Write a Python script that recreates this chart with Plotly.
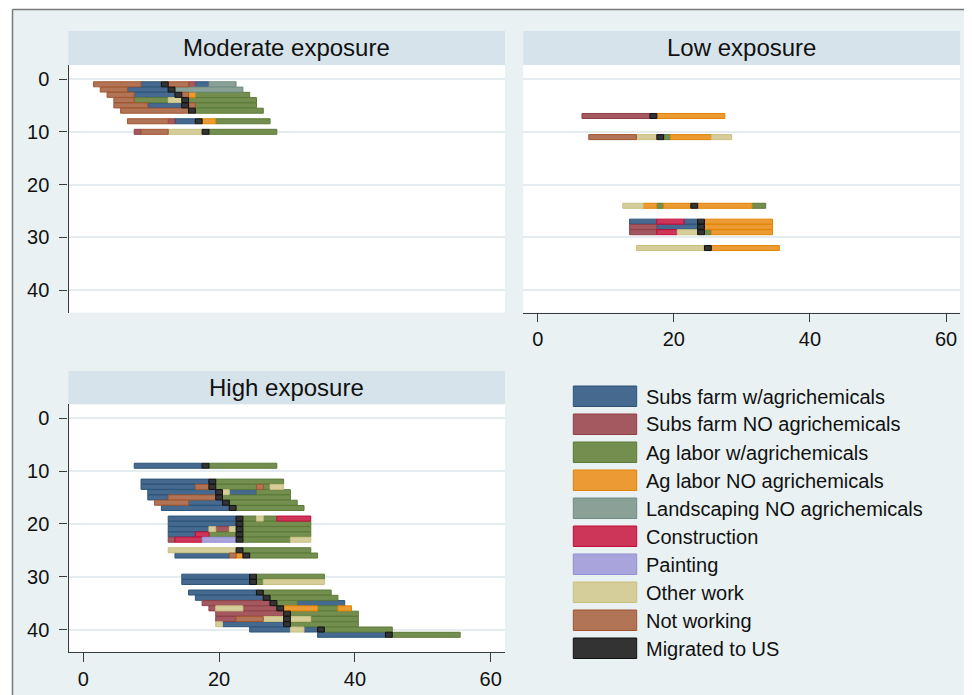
import plotly.graph_objects as go

# ---------------- data ----------------
state_codes = ["S", "s", "A", "a", "L", "C", "P", "O", "N", "M"]
state_labels = [
    "Subs farm w/agrichemicals",
    "Subs farm NO agrichemicals",
    "Ag labor w/agrichemicals",
    "Ag labor NO agrichemicals",
    "Landscaping NO agrichemicals",
    "Construction",
    "Painting",
    "Other work",
    "Not working",
    "Migrated to US",
]
state_fills = ["#45698f", "#a4585f", "#748e4f", "#ec9a33", "#8ba197",
               "#cd3659", "#aaa4dc", "#d5ce9a", "#b17457", "#333333"]
state_lines = ["#2c5479", "#8f3f48", "#5b7a37", "#e08400", "#6f8c82",
               "#c20c3c", "#938dd2", "#c8bf7f", "#a0552f", "#111111"]

panel_titles = ["Moderate exposure", "Low exposure", "High exposure"]
y_ticks = [0, 10, 20, 30, 40]
x_ticks = [0, 20, 40, 60]

# each sequence: runs of "<state><years>", starting at the given age
mod_rows = [1, 2, 3, 4, 5, 6, 8, 10]
mod_start = [1.5, 2.5, 3.5, 4.5, 4.5, 5.5, 6.5, 7.5]
mod_seq = [
    "N7 S3 M1 N3 s1 S2 L4",
    "N4 S6 M1 L10",
    "N4 S6 M1 N1 a1 A8",
    "N3 A5 O2 M1 A10",
    "N5 S5 M1 N1 A9",
    "N10 M1 A10",
    "N6 s1 S3 M1 a2 A8",
    "s1 N4 O5 M1 A10",
]

low_rows = [7, 11, 24, 27, 28, 29, 32]
low_start = [6.5, 7.5, 12.5, 13.5, 13.5, 13.5, 14.5]
low_seq = [
    "s10 M1 a10",
    "N7 O3 M1 A1 a6 O3",
    "O3 a2 A1 a4 M1 a8 A2",
    "S4 C4 S2 M1 a10",
    "s4 S6 M1 a10",
    "s4 C3 O3 M1 A1 a9",
    "O10 M1 a10",
]

high_rows = [9, 12, 13, 14, 15, 16, 17, 19, 20, 21, 22, 23, 25, 26,
             30, 31, 33, 34, 35, 36, 37, 38, 39, 40, 41]
high_start = [7.5, 8.5, 8.5, 9.5, 9.5, 10.5, 11.5, 12.5, 12.5, 12.5, 12.5, 12.5, 12.5, 13.5,
              14.5, 14.5, 15.5, 16.5, 17.5, 18.5, 19.5, 19.5, 19.5, 24.5, 34.5]
high_seq = [
    "S10 M1 A10",
    "S10 M1 A10",
    "S8 N2 M1 A6 N1 A1 O2",
    "S10 M1 O1 S4 A5",
    "S3 N7 M1 A10",
    "N5 S5 M1 A10",
    "S10 M1 A10",
    "S10 M1 A2 O1 A2 C5",
    "S10 M1 A10",
    "S6 O1 s2 O1 M1 A10",
    "S4 C2 A4 M1 A10",
    "s1 C4 P5 M1 A7 O3",
    "O10 M1 A10",
    "S8 N1 a1 M1 A10",
    "S10 M1 A10",
    "S10 M1 A1 O9",
    "S10 M1 A10",
    "S10 M1 A10",
    "s10 M1 A3 S7",
    "s1 O4 s5 M1 a5 A3 a2",
    "s10 M1 A10",
    "s3 N4 O3 M1 O3 A7",
    "O1 S9 M1 A10",
    "S6 O2 S2 M1 A10",
    "S10 M1 A10",
]

# ---------------- helpers ----------------
# the page body has an 8px margin, so the figure is drawn at (8, 8)
OFF = 8
W, H = 972 - OFF, 695 - OFF
FONT = "Liberation Sans, Arial, Helvetica, sans-serif"


def px(x):
    return (x - OFF) / W


def py(y):
    return 1 - (y - OFF) / H


def runs(start, seq):
    out = []
    pos = start
    for tok in seq.split():
        code, n = tok[0], int(tok[1:])
        out.append((code, pos, n))
        pos += n
    return out


fig = go.Figure()


def add_panel(rows, starts, seqs, xa, ya):
    for code, label, fill, line in zip(state_codes, state_labels, state_fills, state_lines):
        ys, bases, lens = [], [], []
        for r, s0, sq in zip(rows, starts, seqs):
            for c, b, n in runs(s0, sq):
                if c == code:
                    ys.append(r)
                    bases.append(b)
                    lens.append(n)
        if ys:
            fig.add_trace(go.Bar(
                y=ys, x=lens, base=bases, orientation="h",
                xaxis=xa, yaxis=ya, width=0.95, name=label,
                marker=dict(color=fill, line=dict(color=line, width=1)),
                showlegend=False,
            ))


add_panel(mod_rows, mod_start, mod_seq, "x", "y")
add_panel(low_rows, low_start, low_seq, "x2", "y2")
add_panel(high_rows, high_start, high_seq, "x3", "y3")

# ---------------- layout ----------------
left_dom = [px(68.5), px(505)]
right_dom = [px(523.3), px(960)]
top_dom = [py(312.5), py(65)]
bot_dom = [py(651.7), py(404.2)]
xr_left = [-2.18, 62.1]
xr_right = [-2.12, 62.05]
yr = [44.2, -2.65]

AX = "#3a3a3a"
GRID = "#e4ecef"
tickfont = dict(family=FONT, size=20, color="#111111")

common_y = dict(range=yr, tickvals=y_ticks, showgrid=True, gridcolor=GRID, gridwidth=1.5,
                zeroline=False, tickfont=tickfont, automargin=False)
common_x = dict(tickvals=x_ticks, showgrid=False, zeroline=False, tickfont=tickfont,
                automargin=False)

fig.update_layout(
    template="none",
    width=W, height=H,
    margin=dict(l=0, r=0, t=0, b=0, pad=0, autoexpand=False),
    paper_bgcolor="#e9f1f3",
    plot_bgcolor="#ffffff",
    barmode="overlay",
    font=dict(family=FONT, color="#111111"),
    xaxis=dict(domain=left_dom, range=xr_left, anchor="y", showticklabels=False,
               ticks="", showline=False, **common_x),
    yaxis=dict(domain=top_dom, anchor="x", showline=True, linecolor=AX, linewidth=1.3,
               ticks="outside", ticklen=8, tickcolor=AX, tickwidth=1.3,
               ticklabelstandoff=6, **common_y),
    xaxis2=dict(domain=right_dom, range=xr_right, anchor="y2", showline=True,
                linecolor=AX, linewidth=1.3, ticks="outside", ticklen=8, tickcolor=AX,
                tickwidth=1.3, **common_x),
    yaxis2=dict(domain=top_dom, anchor="x2", showline=False, ticks="",
                showticklabels=False, **common_y),
    xaxis3=dict(domain=left_dom, range=xr_left, anchor="y3", showline=True,
                linecolor=AX, linewidth=1.3, ticks="outside", ticklen=9, tickcolor=AX,
                tickwidth=1.3, **common_x),
    yaxis3=dict(domain=bot_dom, anchor="x3", showline=True, linecolor=AX, linewidth=1.3,
                ticks="outside", ticklen=8, tickcolor=AX, tickwidth=1.3,
                ticklabelstandoff=6, **common_y),
    hovermode="closest",
)

shapes = []
annotations = []

# white strip outside the border and the border lines
shapes.append(dict(type="rect", xref="paper", yref="paper", x0=0, x1=px(12.5), y0=0, y1=1,
                   fillcolor="white", line=dict(width=0), layer="below"))
shapes.append(dict(type="rect", xref="paper", yref="paper", x0=0, x1=1, y0=py(9.5), y1=1,
                   fillcolor="white", line=dict(width=0), layer="below"))
shapes.append(dict(type="line", xref="paper", yref="paper", x0=px(12.5), x1=px(12.5),
                   y0=0, y1=py(9.5), line=dict(color="#7a7a7a", width=1.5)))
shapes.append(dict(type="line", xref="paper", yref="paper", x0=px(12.5), x1=1,
                   y0=py(9.5), y1=py(9.5), line=dict(color="#7a7a7a", width=1.5)))

# subtitle bands + titles
bands = [
    (68.5, 505, 31, 65),
    (523.3, 960, 31, 65),
    (68.5, 505, 371, 404.2),
]
for (x0, x1, y0, y1), title in zip(bands, panel_titles):
    shapes.append(dict(type="rect", xref="paper", yref="paper",
                       x0=px(x0), x1=px(x1), y0=py(y1), y1=py(y0),
                       fillcolor="#d6e3ea", line=dict(width=0), layer="below"))
    annotations.append(dict(xref="paper", yref="paper", x=px((x0 + x1) / 2),
                            y=py((y0 + y1) / 2 - 0.5), text=title, showarrow=False,
                            xanchor="center", yanchor="middle",
                            font=dict(family=FONT, size=24, color="#111111")))

# legend
for i, (label, fill, line) in enumerate(zip(state_labels, state_fills, state_lines)):
    top = 386 + 28 * i
    shapes.append(dict(type="rect", xref="paper", yref="paper",
                       x0=px(573.3), x1=px(636.7), y0=py(top + 20.5), y1=py(top),
                       fillcolor=fill, line=dict(color=line, width=1)))
    annotations.append(dict(xref="paper", yref="paper", x=px(644), y=py(top + 10.5),
                            text=label, showarrow=False, xanchor="left", yanchor="middle",
                            font=dict(family=FONT, size=20, color="#111111")))

fig.update_layout(shapes=shapes, annotations=annotations)

fig.write_html("out.html")
